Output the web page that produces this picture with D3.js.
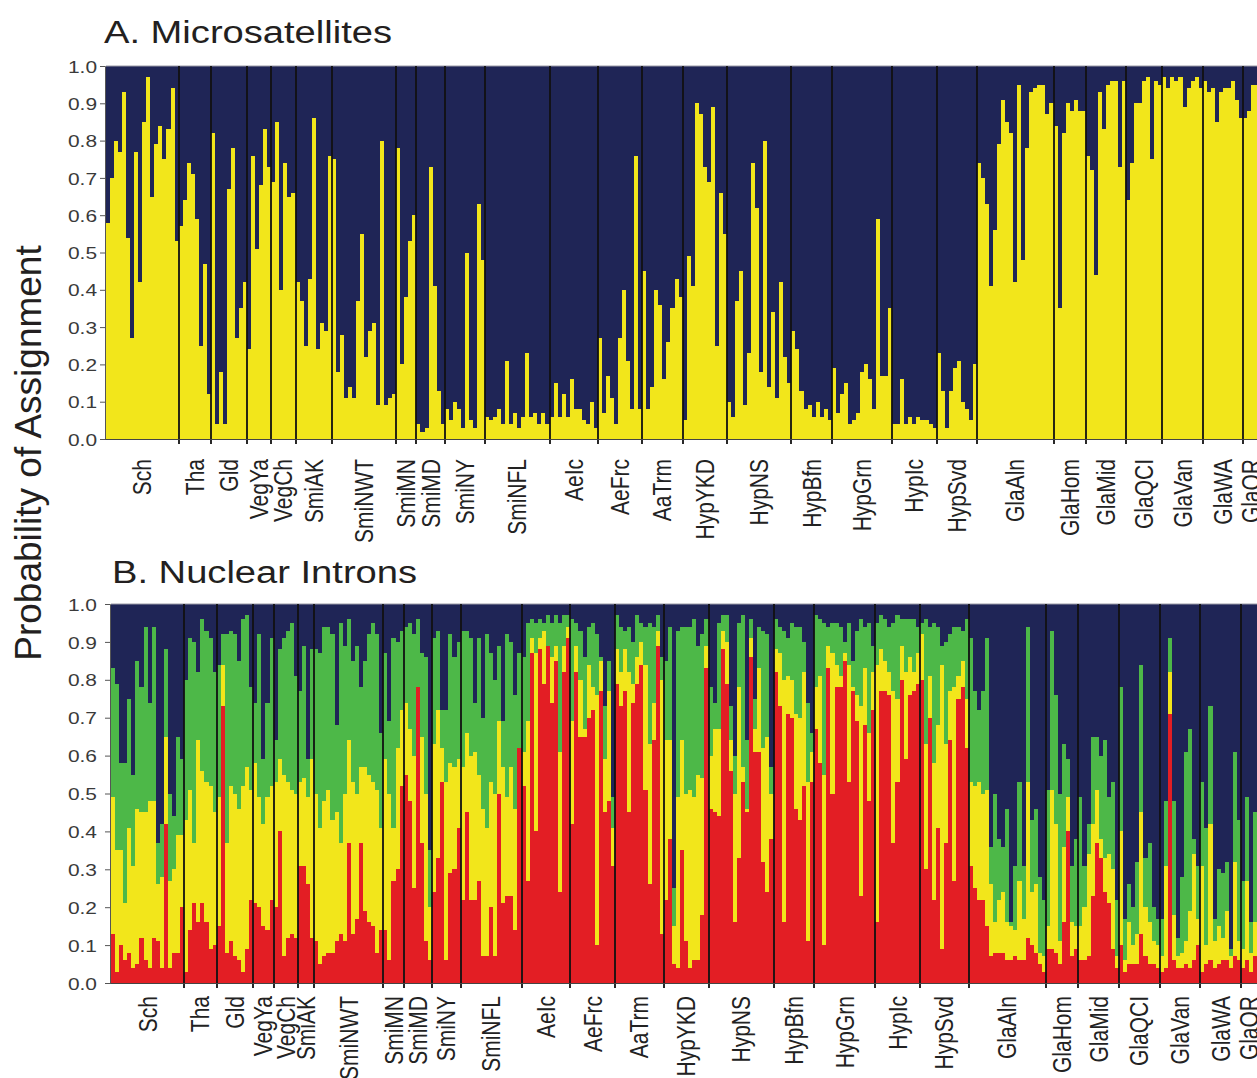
<!DOCTYPE html>
<html lang="en">
<head>
<meta charset="UTF-8">
<title>Probability of Assignment</title>
<script src="https://d3js.org/d3.v7.min.js"></script>
<style>
  html, body { margin: 0; padding: 0; background: #fff; }
  svg { display: block; font-family: "Liberation Sans", Arial, sans-serif; }
  rect { shape-rendering: crispEdges; }
</style>
</head>
<body>
<svg width="1257" height="1078"></svg>
<script>
// population labels (same order in both panels)
const populations = ["Sch", "Tha", "Gld", "VegYa", "VegCh", "SmiAK", "SmiNWT", "SmiMN", "SmiMD", "SmiNY",
  "SmiNFL", "AeIc", "AeFrc", "AaTrm", "HypYKD", "HypNS", "HypBfn", "HypGrn", "HypIc", "HypSvd",
  "GlaAln", "GlaHom", "GlaMid", "GlaQCI", "GlaVan", "GlaWA", "GlaOR"];

const yTicks = [0, 0.1, 0.2, 0.3, 0.4, 0.5, 0.6, 0.7, 0.8, 0.9, 1.0];

// A. microsatellites: probability of the yellow cluster, one value per individual
const microYellow = [
  [0.58,0.70,0.80,0.77,0.93,0.54,0.27,0.77,0.42,0.85,0.97,0.65,0.79,0.84,0.75,0.83,0.94,0.53],
  [0.57,0.64,0.74,0.71,0.59,0.25,0.47,0.12],
  [0.82,0.04,0.18,0.04,0.67,0.78,0.27,0.35,0.42],
  [0.24,0.76,0.51,0.68,0.83,0.73],
  [0.69,0.85,0.40,0.74,0.65,0.66],
  [0.42,0.37,0.25,0.43,0.86,0.24,0.31,0.29,0.76],
  [0.75,0.18,0.28,0.11,0.14,0.11,0.37,0.55,0.22,0.29,0.31,0.09,0.80,0.09,0.11,0.12],
  [0.78,0.20,0.38,0.53,0.60],
  [0.04,0.02,0.03,0.73,0.41,0.13,0.04],
  [0.08,0.05,0.10,0.08,0.03,0.50,0.05,0.03,0.63,0.48],
  [0.06,0.05,0.06,0.08,0.04,0.21,0.04,0.07,0.03,0.06,0.23,0.06,0.07,0.04,0.07,0.04],
  [0.06,0.15,0.06,0.12,0.06,0.16,0.08,0.08,0.05,0.04,0.10,0.03],
  [0.27,0.07,0.17,0.11,0.04,0.27,0.40,0.21,0.08,0.76,0.08],
  [0.45,0.08,0.14,0.40,0.36,0.16,0.26,0.35,0.43,0.38],
  [0.05,0.49,0.41,0.90,0.87,0.73,0.69,0.89,0.25,0.66,0.55],
  [0.10,0.06,0.37,0.45,0.09,0.23,0.74,0.62,0.18,0.80,0.14,0.34,0.11,0.42,0.22,0.15],
  [0.29,0.24,0.13,0.08,0.09,0.06,0.10,0.06,0.08,0.05],
  [0.19,0.07,0.12,0.15,0.04,0.05,0.07,0.18,0.20,0.16,0.08,0.59,0.17,0.17,0.35],
  [0.04,0.04,0.16,0.04,0.06,0.04,0.06,0.05,0.05,0.04,0.03],
  [0.23,0.13,0.03,0.13,0.19,0.21,0.10,0.08,0.05,0.20],
  [0.74,0.70,0.63,0.41,0.56,0.79,0.91,0.85,0.82,0.42,0.95,0.48,0.78,0.93,0.94,0.95,0.95,0.87,0.90],
  [0.84,0.35,0.82,0.90,0.88,0.91,0.88,0.88],
  [0.76,0.72,0.44,0.93,0.83,0.95,0.96,0.96,0.73,0.96],
  [0.64,0.74,0.90,0.90,0.96,0.97,0.75,0.96,0.95],
  [0.97,0.94,0.97,0.96,0.97,0.89,0.94,0.96,0.97,0.94],
  [0.96,0.93,0.94,0.85,0.93,0.94,0.94,0.96,0.91,0.86],
  [0.86,0.88,0.95,0.95]
];

// B. nuclear introns: per individual [red, red+yellow, red+yellow+green]; navy is the rest
const intronCum = [
  [[0.13,0.49,0.83],[0.03,0.35,0.79],[0.10,0.35,0.58],[0.06,0.21,0.58],[0.08,0.41,0.75],[0.04,0.31,0.55],[0.05,0.46,0.85],[0.12,0.45,0.78],[0.06,0.45,0.94],[0.04,0.48,0.74],[0.12,0.48,0.94],[0.11,0.26,0.37],[0.04,0.28,0.42],[0.42,0.65,0.88],[0.04,0.27,0.50],[0.08,0.30,0.44],[0.08,0.39,0.65],[0.20,0.39,0.59]],
  [[0.03,0.43,0.80],[0.14,0.51,0.91],[0.21,0.37,0.90],[0.16,0.64,0.82],[0.21,0.56,0.96],[0.16,0.53,0.93],[0.09,0.52,0.91],[0.10,0.45,0.82]],
  [[0.15,0.49,0.84],[0.73,0.84,0.92],[0.08,0.37,0.92],[0.11,0.52,0.93],[0.07,0.50,0.92],[0.06,0.46,0.85],[0.03,0.52,0.96],[0.09,0.57,0.97],[0.22,0.51,0.78]],
  [[0.21,0.58,0.74],[0.20,0.49,0.92],[0.15,0.42,0.59],[0.14,0.49,0.74],[0.22,0.52,0.91]],
  [[0.20,0.53,0.64],[0.40,0.59,0.88],[0.07,0.55,0.91],[0.12,0.53,0.93],[0.13,0.51,0.95],[0.12,0.50,0.81]],
  [[0.31,0.53,0.77],[0.31,0.54,0.89],[0.26,0.49,0.59],[0.12,0.59,0.88]],
  [[0.11,0.50,0.88],[0.05,0.41,0.87],[0.07,0.48,0.94],[0.08,0.51,0.94],[0.08,0.43,0.92],[0.11,0.45,0.68],[0.13,0.37,0.95],[0.11,0.50,0.89],[0.37,0.64,0.96],[0.13,0.53,0.85],[0.17,0.50,0.89],[0.37,0.57,0.78],[0.19,0.57,0.85],[0.16,0.55,0.92],[0.15,0.53,0.95],[0.08,0.51,0.92],[0.14,0.41,0.66]],
  [[0.14,0.59,0.87],[0.06,0.50,0.69],[0.27,0.41,0.91],[0.30,0.62,0.90],[0.52,0.72,0.93]],
  [[0.55,0.74,0.94],[0.48,0.67,0.95],[0.25,0.60,0.92],[0.78,0.78,0.96],[0.37,0.65,0.87],[0.11,0.50,0.86],[0.06,0.20,0.35]],
  [[0.24,0.63,0.91],[0.33,0.72,0.93],[0.53,0.62,0.72],[0.06,0.53,0.72],[0.29,0.58,0.92],[0.30,0.57,0.86],[0.41,0.59,0.90]],
  [[0.22,0.57,0.93],[0.45,0.66,0.93],[0.22,0.60,0.91],[0.22,0.61,0.74],[0.27,0.55,0.91],[0.07,0.46,0.70],[0.07,0.41,0.92],[0.20,0.53,0.87],[0.07,0.50,0.80],[0.50,0.69,0.89],[0.21,0.57,0.69],[0.23,0.49,0.92],[0.23,0.57,0.90],[0.14,0.46,0.76],[0.62,0.62,0.87]],
  [[0.52,0.61,0.86],[0.27,0.69,0.95],[0.87,0.91,0.96],[0.40,0.87,0.95],[0.88,0.91,0.96],[0.79,0.93,0.95],[0.89,0.89,0.97],[0.74,0.86,0.95],[0.85,0.89,0.97],[0.24,0.61,0.95],[0.82,0.89,0.97],[0.91,0.94,0.97]],
  [[0.42,0.69,0.96],[0.82,0.89,0.95],[0.65,0.80,0.93],[0.65,0.67,0.86],[0.70,0.84,0.94],[0.72,0.78,0.95],[0.10,0.76,0.92],[0.77,0.85,0.86],[0.45,0.59,0.73],[0.48,0.77,0.85],[0.31,0.41,0.49]],
  [[0.79,0.88,0.97],[0.73,0.82,0.94],[0.77,0.88,0.93],[0.45,0.82,0.94],[0.74,0.79,0.90],[0.79,0.86,0.97],[0.84,0.90,0.95],[0.51,0.84,0.94],[0.26,0.63,0.95],[0.64,0.74,0.94],[0.89,0.93,0.97],[0.13,0.80,0.86]],
  [[0.22,0.64,0.85],[0.38,0.64,0.94],[0.05,0.15,0.25],[0.04,0.49,0.93],[0.35,0.64,0.94],[0.11,0.50,0.94],[0.04,0.51,0.94],[0.06,0.49,0.96],[0.06,0.55,0.89],[0.18,0.54,0.92],[0.83,0.89,0.96]],
  [[0.46,0.60,0.78],[0.45,0.67,0.74],[0.44,0.67,0.95],[0.88,0.93,0.97],[0.79,0.90,0.97],[0.56,0.64,0.73],[0.16,0.50,0.60],[0.33,0.78,0.95],[0.53,0.57,0.97],[0.45,0.46,0.64],[0.86,0.91,0.96],[0.61,0.67,0.75],[0.61,0.83,0.94],[0.32,0.62,0.93],[0.24,0.65,0.92],[0.38,0.50,0.57]],
  [[0.82,0.88,0.96],[0.73,0.87,0.94],[0.16,0.80,0.93],[0.71,0.81,0.91],[0.70,0.80,0.95],[0.46,0.71,0.94],[0.43,0.70,0.94],[0.52,0.82,0.90],[0.11,0.53,0.74],[0.53,0.61,0.66]],
  [[0.67,0.78,0.97],[0.58,0.81,0.96],[0.10,0.55,0.95],[0.83,0.89,0.94],[0.50,0.87,0.95],[0.78,0.84,0.95],[0.78,0.81,0.94],[0.85,0.87,0.90],[0.53,0.84,0.95],[0.77,0.78,0.85],[0.69,0.76,0.93],[0.23,0.73,0.96],[0.68,0.83,0.94],[0.48,0.66,0.95],[0.72,0.82,0.89]],
  [[0.16,0.84,0.95],[0.77,0.88,0.97],[0.77,0.85,0.96],[0.76,0.82,0.94],[0.37,0.77,0.95],[0.53,0.75,0.97],[0.80,0.89,0.96],[0.59,0.82,0.96],[0.76,0.86,0.96],[0.77,0.82,0.96],[0.79,0.87,0.94]],
  [[0.80,0.92,0.95],[0.30,0.63,0.96],[0.70,0.81,0.94],[0.22,0.58,0.95],[0.41,0.68,0.94],[0.09,0.84,0.89],[0.37,0.63,0.90],[0.64,0.77,0.92],[0.27,0.78,0.94],[0.75,0.81,0.94],[0.78,0.85,0.93],[0.62,0.75,0.96]],
  [[0.31,0.53,0.91],[0.25,0.52,0.77],[0.22,0.53,0.72],[0.22,0.50,0.77],[0.15,0.51,0.91],[0.07,0.26,0.36],[0.08,0.16,0.50],[0.08,0.22,0.38],[0.08,0.24,0.36],[0.06,0.16,0.46],[0.06,0.15,0.16],[0.07,0.14,0.31],[0.06,0.27,0.53],[0.06,0.17,0.31],[0.12,0.53,0.94],[0.10,0.24,0.43],[0.08,0.26,0.46],[0.05,0.08,0.28],[0.03,0.07,0.22]],
  [[0.09,0.15,0.51],[0.09,0.51,0.93],[0.08,0.42,0.76],[0.05,0.11,0.50],[0.16,0.36,0.63],[0.40,0.49,0.59],[0.07,0.16,0.31],[0.09,0.15,0.38]],
  [[0.06,0.15,0.49],[0.06,0.20,0.31],[0.07,0.34,0.42],[0.23,0.42,0.65],[0.37,0.51,0.65],[0.33,0.38,0.60],[0.24,0.33,0.64],[0.21,0.34,0.49],[0.09,0.30,0.53],[0.04,0.07,0.22]],
  [[0.10,0.40,0.78],[0.03,0.06,0.17],[0.05,0.16,0.26],[0.05,0.10,0.20],[0.05,0.13,0.32],[0.13,0.45,0.84],[0.07,0.20,0.33],[0.05,0.16,0.37],[0.05,0.11,0.20],[0.04,0.10,0.17]],
  [[0.03,0.07,0.17],[0.04,0.31,0.48],[0.71,0.82,0.91],[0.06,0.18,0.48],[0.04,0.07,0.12],[0.04,0.08,0.28],[0.05,0.11,0.61],[0.04,0.19,0.67],[0.06,0.34,0.38],[0.10,0.17,0.31]],
  [[0.03,0.31,0.53],[0.05,0.10,0.41],[0.06,0.42,0.73],[0.04,0.11,0.17],[0.05,0.15,0.30],[0.06,0.12,0.29],[0.06,0.19,0.32],[0.04,0.07,0.09],[0.07,0.32,0.61],[0.06,0.11,0.43]],
  [[0.04,0.09,0.27],[0.06,0.27,0.49],[0.03,0.08,0.16],[0.07,0.16,0.45]]
];

const colors = { red: "#e31e24", yellow: "#f2e61b", green: "#4db848", navy: "#1f2556" };
const stretch = 1.23; // the source figure's lettering is widened horizontally

const svg = d3.select("svg");

function drawPanel(p) {
  // flatten individuals, remember where each population starts
  const rows = [];
  const starts = [];
  p.groups.forEach(g => { starts.push(rows.length); g.forEach(r => rows.push(r)); });
  const ends = starts.slice(1).concat([rows.length]);
  const nVisible = starts[starts.length - 1]; // GlaOR runs off the right edge

  const x = d3.scaleLinear().domain([0, nVisible]).rangeRound([p.x0, p.x1]);
  const y = d3.scaleLinear().domain([0, 1]).range([p.yBottom, p.yTop]);

  const g = svg.append("g");
  const series = d3.stack().keys(p.keys)(rows);

  g.selectAll("g.layer")
    .data(series)
    .join("g")
    .attr("fill", s => colors[s.key])
    .selectAll("rect")
    .data(s => s)
    .join("rect")
    .attr("x", (d, i) => x(i))
    .attr("width", (d, i) => x(i + 1) - x(i))
    .attr("y", d => y(d[1]))
    .attr("height", d => Math.max(0, y(d[0]) - y(d[1])));

  // top edge
  g.append("line")
    .attr("x1", p.x0).attr("x2", 1257)
    .attr("y1", p.yTop).attr("y2", p.yTop)
    .attr("stroke", "#9a9aa6").attr("stroke-width", 1);

  // population separators
  g.selectAll("line.sep")
    .data(starts.slice(1))
    .join("line")
    .attr("class", "sep")
    .attr("x1", d => x(d)).attr("x2", d => x(d))
    .attr("y1", p.yTop).attr("y2", p.yBottom + 5)
    .attr("stroke", "#111").attr("stroke-width", 1.8);

  // bottom axis line
  g.append("line")
    .attr("x1", p.axisX).attr("x2", 1257)
    .attr("y1", p.yBottom + 0.5).attr("y2", p.yBottom + 0.5)
    .attr("stroke", "#444").attr("stroke-width", 1.2);

  // y axis
  const ax = g.append("g")
    .attr("transform", `translate(${p.axisX},0)`)
    .call(d3.axisLeft(y).tickValues(yTicks).tickFormat(d3.format(".1f")).tickSize(5));
  ax.select(".domain").attr("stroke", "#555");
  ax.selectAll(".tick line").attr("stroke", "#555");
  ax.selectAll(".tick text")
    .attr("x", (97 - p.axisX) / stretch)
    .attr("dy", "0.36em")
    .attr("transform", `scale(${stretch},1)`)
    .attr("fill", "#3a3a3a")
    .style("font-size", "17px")
    .style("font-family", '"Liberation Sans", Arial, sans-serif');

  // population labels
  g.selectAll("text.pop")
    .data(populations)
    .join("text")
    .attr("class", "pop")
    .attr("transform", (d, i) => `translate(${x((starts[i] + ends[i]) / 2)},${p.labelY}) scale(${stretch},1) rotate(-90)`)
    .attr("text-anchor", "end")
    .attr("dy", "0.35em")
    .attr("fill", "#222")
    .style("font-size", "21px")
    .text(d => d);

  // panel title
  svg.append("text")
    .attr("transform", `translate(${p.titleX},${p.titleY}) scale(${stretch},1)`)
    .attr("fill", "#231f20")
    .style("font-size", "31px")
    .text(p.title);
}

drawPanel({
  title: "A. Microsatellites", titleX: 104, titleY: 43,
  groups: microYellow.map(g => g.map(v => ({ yellow: v, navy: 1 - v }))),
  keys: ["yellow", "navy"],
  x0: 106, x1: 1243, axisX: 105, yTop: 66, yBottom: 439, labelY: 459
});

drawPanel({
  title: "B. Nuclear Introns", titleX: 112, titleY: 583,
  groups: intronCum.map(g => g.map(([r, ry, ryg]) => ({ red: r, yellow: ry - r, green: ryg - ry, navy: 1 - ryg }))),
  keys: ["red", "yellow", "green", "navy"],
  x0: 111, x1: 1241, axisX: 110, yTop: 604, yBottom: 983, labelY: 996
});

svg.append("text")
  .attr("transform", "translate(41,453) rotate(-90)")
  .attr("text-anchor", "middle")
  .attr("fill", "#231f20")
  .style("font-size", "37px")
  .text("Probability of Assignment");
</script>
</body>
</html>
